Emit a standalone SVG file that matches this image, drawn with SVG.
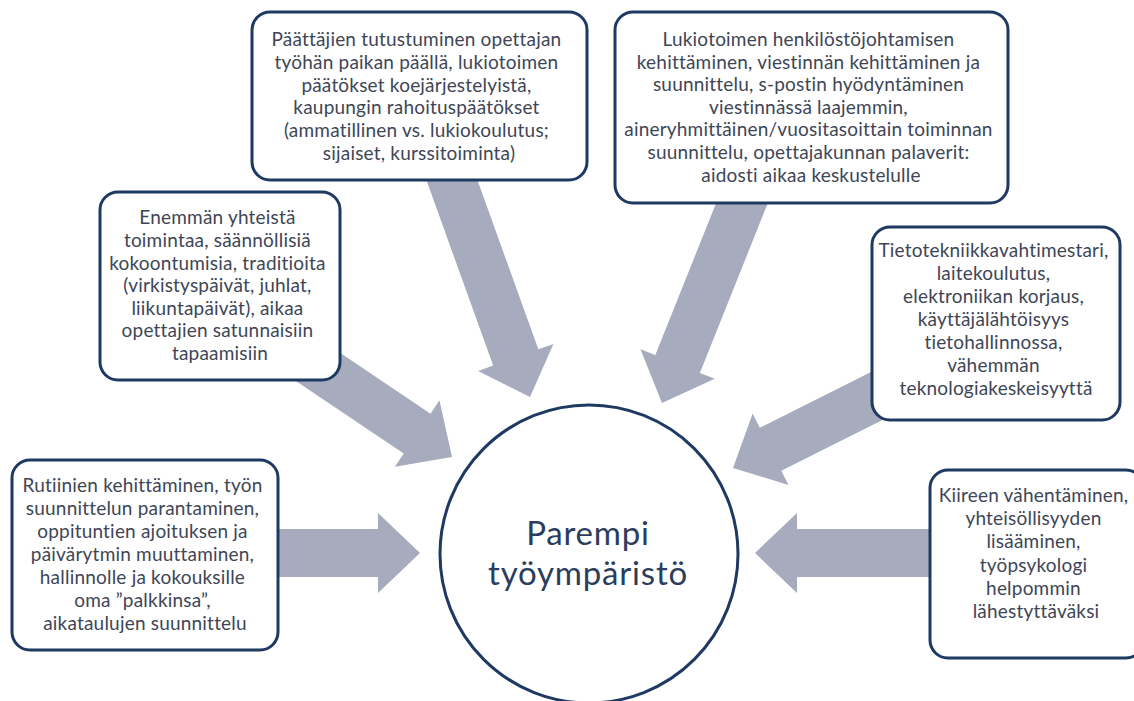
<svg xmlns="http://www.w3.org/2000/svg" width="1134" height="701" viewBox="0 0 1134 701">
  <style>
    .arrow { fill: #a6acbd; }
    .box { fill: #ffffff; stroke: #1f3a62; stroke-width: 3; }
    .lbl { font-family: Lato, "Open Sans", sans-serif; font-size: 19px; letter-spacing: 0.2px; fill: #3e4656; text-anchor: middle; }
    .hub { fill: #ffffff; stroke: #1f3a62; stroke-width: 3; }
    .hubtxt { font-family: Lato, "Open Sans", sans-serif; font-size: 33px; letter-spacing: 0.8px; fill: #2c3d5c; text-anchor: middle; }
  </style>
  <rect width="1134" height="701" fill="#ffffff"/>

  <!-- connectors: wide block arrows pointing at the hub (tip at local origin) -->
  <g id="connectors" class="arrow">
    <!-- top middle -->
    <g transform="translate(530,397) rotate(70.2)">
      <polygon points="-240,-24 -42,-24 -42,-40 0,0 -42,40 -42,24 -240,24"/>
    </g>
    <!-- top right -->
    <g transform="translate(662,403) rotate(111.8)">
      <polygon points="-232,-24 -42,-24 -42,-40 0,0 -42,40 -42,24 -232,24"/>
    </g>
    <!-- middle left -->
    <g transform="translate(452,457) rotate(33.9)">
      <polygon points="-190,-24 -42,-24 -42,-40 0,0 -42,40 -42,24 -190,24"/>
    </g>
    <!-- middle right -->
    <g transform="translate(733,468) rotate(153.4)">
      <polygon points="-178,-24 -42,-24 -42,-40 0,0 -42,40 -42,24 -178,24"/>
    </g>
    <!-- bottom left -->
    <g transform="translate(420,553)">
      <polygon points="-150,-24 -42,-24 -42,-40 0,0 -42,40 -42,24 -150,24"/>
    </g>
    <!-- bottom right -->
    <g transform="translate(755,553) rotate(180)">
      <polygon points="-185,-24 -42,-24 -42,-40 0,0 -42,40 -42,24 -185,24"/>
    </g>
  </g>

  <g id="hub">
    <circle class="hub" cx="589" cy="554" r="149"/>
    <text class="hubtxt" x="588" y="545">Parempi</text>
    <text class="hubtxt" x="588" y="585">työympäristö</text>
  </g>

  <g id="node-decision-makers">
    <rect class="box" x="252" y="12" width="335" height="168" rx="18"/>
    <text class="lbl">
      <tspan x="419" y="46">Päättäjien tutustuminen opettajan</tspan>
      <tspan x="419" y="68.8">työhän paikan päällä, lukiotoimen</tspan>
      <tspan x="419" y="91.6">päätökset koejärjestelyistä,</tspan>
      <tspan x="419" y="114.4">kaupungin rahoituspäätökset</tspan>
      <tspan x="419" y="137.2">(ammatillinen vs. lukiokoulutus;</tspan>
      <tspan x="419" y="160">sijaiset, kurssitoiminta)</tspan>
    </text>
  </g>

  <g id="node-leadership">
    <rect class="box" x="615" y="12" width="393" height="191" rx="18"/>
    <text class="lbl">
      <tspan x="811" y="46">Lukiotoimen henkilöstöjohtamisen</tspan>
      <tspan x="811" y="68.6">kehittäminen, viestinnän kehittäminen ja</tspan>
      <tspan x="811" y="91.2">suunnittelu, s-postin hyödyntäminen</tspan>
      <tspan x="811" y="113.8">viestinnässä laajemmin,</tspan>
      <tspan x="811" y="136.4">aineryhmittäinen/vuositasoittain toiminnan</tspan>
      <tspan x="811" y="159">suunnittelu, opettajakunnan palaverit:</tspan>
      <tspan x="811" y="181.6">aidosti aikaa keskustelulle</tspan>
    </text>
  </g>

  <g id="node-community">
    <rect class="box" x="100" y="192" width="240" height="188" rx="18"/>
    <text class="lbl">
      <tspan x="220" y="224.3">Enemmän yhteistä</tspan>
      <tspan x="220" y="246.9">toimintaa, säännöllisiä</tspan>
      <tspan x="220" y="269.5">kokoontumisia, traditioita</tspan>
      <tspan x="220" y="292.1">(virkistyspäivät, juhlat,</tspan>
      <tspan x="220" y="314.7">liikuntapäivät), aikaa</tspan>
      <tspan x="220" y="337.3">opettajien satunnaisiin</tspan>
      <tspan x="220" y="360">tapaamisiin</tspan>
    </text>
  </g>

  <g id="node-it">
    <rect class="box" x="872" y="227" width="248" height="193" rx="18"/>
    <text class="lbl">
      <tspan x="996" y="256.7">Tietotekniikkavahtimestari,</tspan>
      <tspan x="996" y="279.7">laitekoulutus,</tspan>
      <tspan x="996" y="302.7">elektroniikan korjaus,</tspan>
      <tspan x="996" y="325.7">käyttäjälähtöisyys</tspan>
      <tspan x="996" y="348.7">tietohallinnossa,</tspan>
      <tspan x="996" y="371.7">vähemmän</tspan>
      <tspan x="996" y="394.7">teknologiakeskeisyyttä</tspan>
    </text>
  </g>

  <g id="node-routines">
    <rect class="box" x="12" y="460" width="266" height="190" rx="18"/>
    <text class="lbl">
      <tspan x="145" y="491.7">Rutiinien kehittäminen, työn</tspan>
      <tspan x="145" y="514.7">suunnittelun parantaminen,</tspan>
      <tspan x="145" y="537.7">oppituntien ajoituksen ja</tspan>
      <tspan x="145" y="560.7">päivärytmin muuttaminen,</tspan>
      <tspan x="145" y="583.7">hallinnolle ja kokouksille</tspan>
      <tspan x="145" y="606.7">oma ”palkkinsa”,</tspan>
      <tspan x="145" y="629.7">aikataulujen suunnittelu</tspan>
    </text>
  </g>

  <g id="node-wellbeing">
    <rect class="box" x="930" y="470" width="214" height="188" rx="18"/>
    <text class="lbl">
      <tspan x="1036" y="501.7">Kiireen vähentäminen,</tspan>
      <tspan x="1036" y="525">yhteisöllisyyden</tspan>
      <tspan x="1036" y="548.3">lisääminen,</tspan>
      <tspan x="1036" y="571.6">työpsykologi</tspan>
      <tspan x="1036" y="594.9">helpommin</tspan>
      <tspan x="1036" y="618.2">lähestyttäväksi</tspan>
    </text>
  </g>
</svg>
